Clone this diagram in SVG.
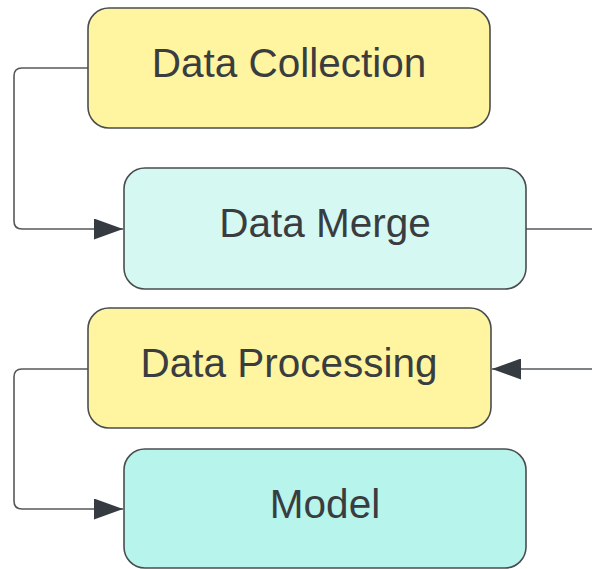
<svg xmlns="http://www.w3.org/2000/svg" width="592" height="569" viewBox="0 0 592 569">
<defs>
<style>
.box{stroke:#4a4d4f;stroke-width:1.6}
.y{fill:#fff49f}
.c1{fill:#d6f8f3}
.c2{fill:#b6f4ec}
.t{font-family:"Liberation Sans",Arial,sans-serif;font-size:40.5px;fill:#3a3d40;text-anchor:middle}
.e{fill:none;stroke:#55585b;stroke-width:1.6}
</style>
<marker id="ah" viewBox="0 0 29 21" refX="29" refY="10.5" markerWidth="29" markerHeight="21" markerUnits="userSpaceOnUse" orient="auto">
<path d="M0,0 L29,10.5 L0,21 Z" fill="#363b42"/>
</marker>
</defs>
<rect width="592" height="569" fill="#ffffff"/>
<g id="connectors">
<path class="e" d="M88,68 H22 Q14,68 14,76 V221 Q14,229 22,229 H123" marker-end="url(#ah)"/>
<path class="e" d="M526,229 H592"/>
<path class="e" d="M592,369 H492" marker-end="url(#ah)"/>
<path class="e" d="M88,369 H22 Q14,369 14,377 V501 Q14,509 22,509 H123" marker-end="url(#ah)"/>
</g>
<g id="data-collection">
<rect class="box y" x="88" y="8" width="402" height="120" rx="21"/>
<text class="t" x="289" y="77">Data Collection</text>
</g>
<g id="data-merge">
<rect class="box c1" x="124" y="168" width="402" height="121" rx="21"/>
<text class="t" x="325" y="237">Data Merge</text>
</g>
<g id="data-processing">
<rect class="box y" x="88" y="308" width="403" height="120" rx="21"/>
<text class="t" x="289" y="377">Data Processing</text>
</g>
<g id="model">
<rect class="box c2" x="124" y="449" width="402" height="119" rx="21"/>
<text class="t" x="325" y="518">Model</text>
</g>
</svg>
